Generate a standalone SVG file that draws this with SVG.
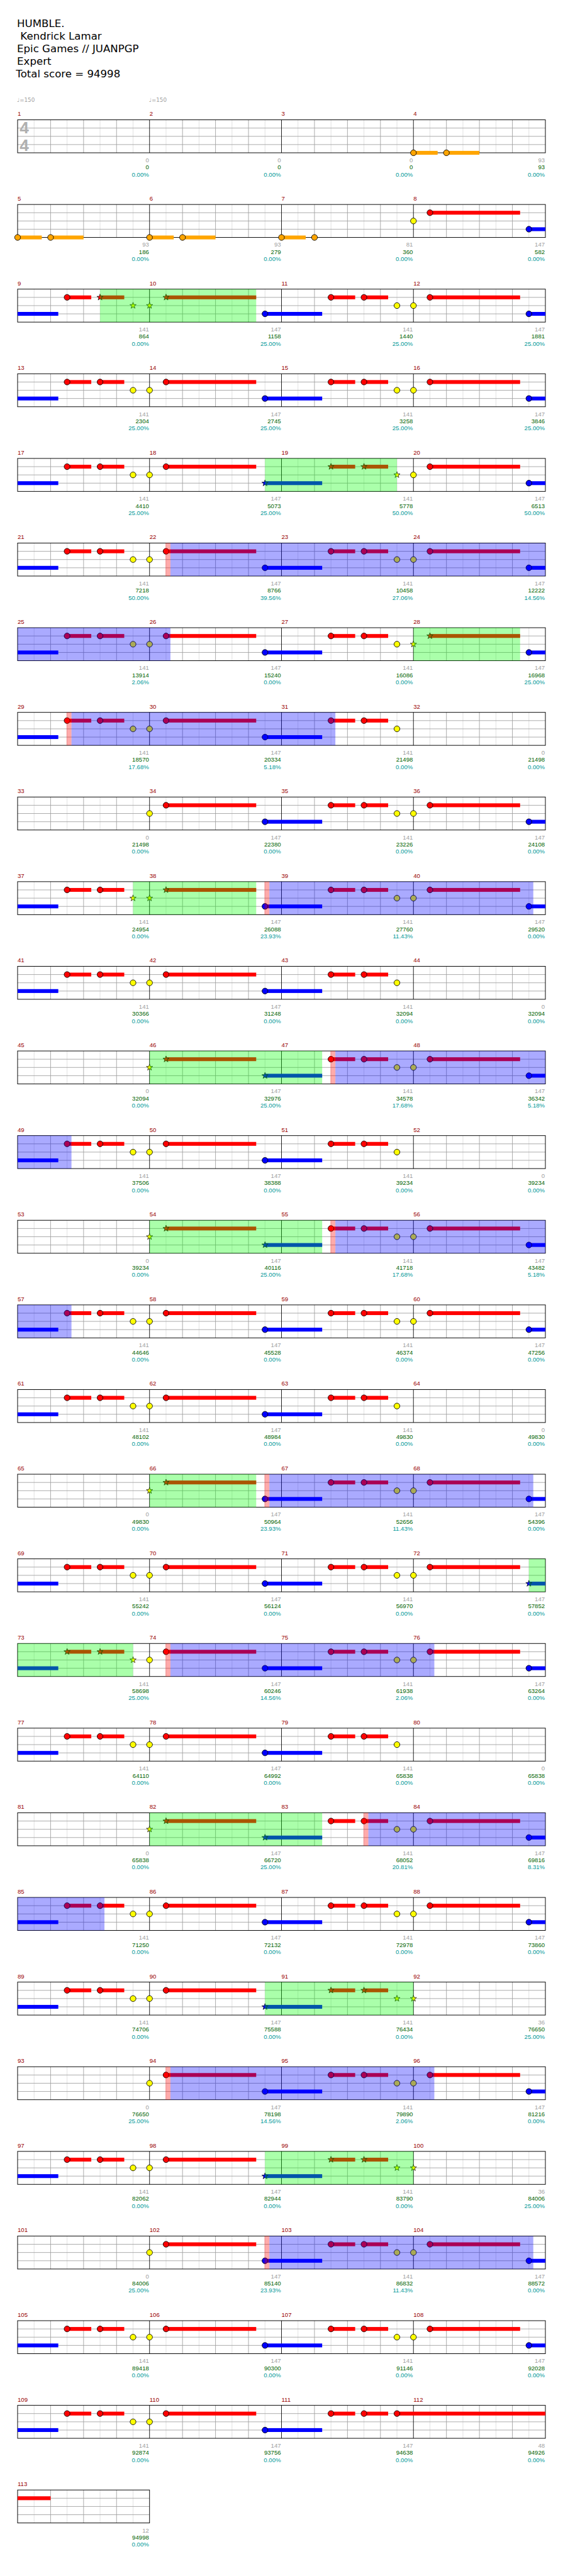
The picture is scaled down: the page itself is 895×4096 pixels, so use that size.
<svg xmlns="http://www.w3.org/2000/svg" width="895" height="4096" viewBox="0 0 895 4096">
<style>
text{font-family:"Liberation Sans",Arial,sans-serif}
.hd{font-family:"DejaVu Sans",Verdana,sans-serif;font-size:19px;fill:#000}
.mn{font-size:11px;fill:#900}
.lb{font-size:11px;text-anchor:end}
.t1{fill:#a0a0a0}.t2{fill:#006400}.t3{fill:#009999}
.tp{font-family:"DejaVu Sans",sans-serif;font-size:10px;fill:#a0a0a0}
.ts{font-size:30px;font-weight:bold;fill:#b0b0b0;text-anchor:middle}
.r{fill:#f00}.y{fill:#ff0}.b{fill:#00f}.o{fill:#ffa500}
.gz{fill:#0f0;fill-opacity:.333}.bz{fill:#00f;fill-opacity:.333}.pz{fill:#f00;fill-opacity:.333}
</style>
<defs>
<circle id="h" r="5.3" stroke="#000" stroke-width="1"/>
<path id="s" d="M0-6L1.41-1.94L5.71-1.85L2.28 .74L3.53 4.85L0 2.4L-3.53 4.85L-2.28 .74L-5.71-1.85L-1.41-1.94Z" stroke="#000" stroke-width=".8"/>
<g id="grid">
<rect x="32" y="0" width="960" height="60" fill="#fff"/>
<path d="M62 0V60M122 0V60M182 0V60M242 0V60M302 0V60M362 0V60M422 0V60M482 0V60M542 0V60M602 0V60M662 0V60M722 0V60M782 0V60M842 0V60M902 0V60M962 0V60" stroke="#ddd" fill="none"/>
<path d="M32 15H992M32 30H992M32 45H992M92 0V60M152 0V60M212 0V60M332 0V60M392 0V60M452 0V60M572 0V60M632 0V60M692 0V60M812 0V60M872 0V60M932 0V60" stroke="#a0a0a0" fill="none"/>
<path d="M272 0V60M512 0V60M752 0V60" stroke="#000" fill="none"/>
<rect x="32" y="0" width="960" height="60" fill="none" stroke="#000" stroke-width="1.1"/>
</g>
<g id="grid1">
<rect x="32" y="0" width="240" height="60" fill="#fff"/>
<path d="M62 0V60M122 0V60M182 0V60M242 0V60" stroke="#ddd" fill="none"/>
<path d="M32 15H272M32 30H272M32 45H272M92 0V60M152 0V60M212 0V60" stroke="#a0a0a0" fill="none"/>
<rect x="32" y="0" width="240" height="60" fill="none" stroke="#000" stroke-width="1.1"/>
</g>
<g id="P">
<rect class="r" x="90" y="11.5" width="44" height="7"/>
<rect class="r" x="150" y="11.5" width="44" height="7"/>
<use href="#h" x="90" y="15" class="r"/>
<use href="#h" x="150" y="15" class="r"/>
<use href="#h" x="210" y="30" class="y"/>
</g>
<g id="Q">
<rect class="r" x="30" y="11.5" width="164" height="7"/>
<rect class="b" x="210" y="41.5" width="104" height="7"/>
<use href="#h" x="0" y="30" class="y"/>
<use href="#h" x="30" y="15" class="r"/>
<use href="#h" x="210" y="45" class="b"/>
</g>
<g id="Qe">
<rect class="r" x="30" y="11.5" width="164" height="7"/>
<rect class="b" x="210" y="41.5" width="30" height="7"/>
<use href="#h" x="0" y="30" class="y"/>
<use href="#h" x="30" y="15" class="r"/>
<use href="#h" x="210" y="45" class="b"/>
</g>
<g id="Pall">
<rect class="r" x="90" y="11.5" width="44" height="7"/>
<rect class="r" x="150" y="11.5" width="44" height="7"/>
<use href="#s" x="90" y="15" class="r"/>
<use href="#s" x="150" y="15" class="r"/>
<use href="#s" x="210" y="30" class="y"/>
</g>
<g id="Qall">
<rect class="r" x="30" y="11.5" width="164" height="7"/>
<rect class="b" x="210" y="41.5" width="104" height="7"/>
<use href="#s" x="0" y="30" class="y"/>
<use href="#s" x="30" y="15" class="r"/>
<use href="#s" x="210" y="45" class="b"/>
</g>
<g id="Q12">
<rect class="r" x="30" y="11.5" width="164" height="7"/>
<rect class="b" x="210" y="41.5" width="104" height="7"/>
<use href="#s" x="0" y="30" class="y"/>
<use href="#s" x="30" y="15" class="r"/>
<use href="#h" x="210" y="45" class="b"/>
</g>
<g id="Q3">
<rect class="r" x="30" y="11.5" width="164" height="7"/>
<rect class="b" x="210" y="41.5" width="104" height="7"/>
<use href="#h" x="0" y="30" class="y"/>
<use href="#h" x="30" y="15" class="r"/>
<use href="#s" x="210" y="45" class="b"/>
</g>
<rect id="lead" class="b" x="32" y="41.5" width="74" height="7"/>
</defs>
<rect x="0" y="0" width="895" height="4096" fill="#fff"/>
<g transform="scale(0.874)">
<g id="header">
<text class="hd" x="31" y="49">HUMBLE.</text>
<text class="hd" x="31" y="72" xml:space="preserve"> Kendrick Lamar</text>
<text class="hd" x="31" y="95">Epic Games // JUANPGP</text>
<text class="hd" x="31" y="118">Expert</text>
<text class="hd" x="29" y="141">Total score = 94998</text>
</g>

<g id="row1" transform="translate(0,218)">
<use href="#grid"/>
<text class="ts" x="44" y="25">4</text><text class="ts" x="44" y="57">4</text>
<text class="tp" x="31" y="-33">♩=150</text><text class="tp" x="271" y="-33">♩=150</text>
<rect class="o" x="752" y="56.5" width="44" height="7"/><rect class="o" x="812" y="56.5" width="60" height="7"/>
<use href="#h" x="752" y="60" class="o"/><use href="#h" x="812" y="60" class="o"/>
<text class="mn" y="-7"><tspan x="32">1</tspan><tspan x="272">2</tspan><tspan x="512">3</tspan><tspan x="752">4</tspan></text>
<text class="lb" x="271" y="77"><tspan class="t1">0</tspan><tspan class="t2" x="271" y="90">0</tspan><tspan class="t3" x="271" y="103">0.00%</tspan></text>
<text class="lb" x="511" y="77"><tspan class="t1">0</tspan><tspan class="t2" x="511" y="90">0</tspan><tspan class="t3" x="511" y="103">0.00%</tspan></text>
<text class="lb" x="751" y="77"><tspan class="t1">0</tspan><tspan class="t2" x="751" y="90">0</tspan><tspan class="t3" x="751" y="103">0.00%</tspan></text>
<text class="lb" x="991" y="77"><tspan class="t1">93</tspan><tspan class="t2" x="991" y="90">93</tspan><tspan class="t3" x="991" y="103">0.00%</tspan></text>
</g>

<g id="row2" transform="translate(0,372)">
<use href="#grid"/>
<rect class="o" x="32" y="56.5" width="44" height="7"/><rect class="o" x="92" y="56.5" width="60" height="7"/>
<rect class="o" x="272" y="56.5" width="44" height="7"/><rect class="o" x="332" y="56.5" width="60" height="7"/>
<rect class="o" x="512" y="56.5" width="44" height="7"/>
<use href="#h" x="32" y="60" class="o"/><use href="#h" x="92" y="60" class="o"/>
<use href="#h" x="272" y="60" class="o"/><use href="#h" x="332" y="60" class="o"/>
<use href="#h" x="512" y="60" class="o"/><use href="#h" x="572" y="60" class="o"/>
<use href="#Qe" x="752"/>
<text class="mn" y="-7"><tspan x="32">5</tspan><tspan x="272">6</tspan><tspan x="512">7</tspan><tspan x="752">8</tspan></text>
<text class="lb" x="271" y="77"><tspan class="t1">93</tspan><tspan class="t2" x="271" y="90">186</tspan><tspan class="t3" x="271" y="103">0.00%</tspan></text>
<text class="lb" x="511" y="77"><tspan class="t1">93</tspan><tspan class="t2" x="511" y="90">279</tspan><tspan class="t3" x="511" y="103">0.00%</tspan></text>
<text class="lb" x="751" y="77"><tspan class="t1">81</tspan><tspan class="t2" x="751" y="90">360</tspan><tspan class="t3" x="751" y="103">0.00%</tspan></text>
<text class="lb" x="991" y="77"><tspan class="t1">147</tspan><tspan class="t2" x="991" y="90">582</tspan><tspan class="t3" x="991" y="103">0.00%</tspan></text>
</g>

<g id="row3" transform="translate(0,526)">
<use href="#grid"/><use href="#lead"/>
<rect class="r" x="122" y="11.5" width="44" height="7"/><rect class="r" x="182" y="11.5" width="44" height="7"/>
<use href="#h" x="122" y="15" class="r"/><use href="#s" x="182" y="15" class="r"/><use href="#s" x="242" y="30" class="y"/>
<use href="#Q12" x="272"/><use href="#P" x="512"/><use href="#Qe" x="752"/>
<rect class="gz" x="182" y="0" width="284" height="60"/>
<text class="mn" y="-7"><tspan x="32">9</tspan><tspan x="272">10</tspan><tspan x="512">11</tspan><tspan x="752">12</tspan></text>
<text class="lb" x="271" y="77"><tspan class="t1">141</tspan><tspan class="t2" x="271" y="90">864</tspan><tspan class="t3" x="271" y="103">0.00%</tspan></text>
<text class="lb" x="511" y="77"><tspan class="t1">147</tspan><tspan class="t2" x="511" y="90">1158</tspan><tspan class="t3" x="511" y="103">25.00%</tspan></text>
<text class="lb" x="751" y="77"><tspan class="t1">141</tspan><tspan class="t2" x="751" y="90">1440</tspan><tspan class="t3" x="751" y="103">25.00%</tspan></text>
<text class="lb" x="991" y="77"><tspan class="t1">147</tspan><tspan class="t2" x="991" y="90">1881</tspan><tspan class="t3" x="991" y="103">25.00%</tspan></text>
</g>

<g id="row4" transform="translate(0,680)">
<use href="#grid"/><use href="#lead"/>
<use href="#P" x="32"/><use href="#Q" x="272"/><use href="#P" x="512"/><use href="#Qe" x="752"/>
<text class="mn" y="-7"><tspan x="32">13</tspan><tspan x="272">14</tspan><tspan x="512">15</tspan><tspan x="752">16</tspan></text>
<text class="lb" x="271" y="77"><tspan class="t1">141</tspan><tspan class="t2" x="271" y="90">2304</tspan><tspan class="t3" x="271" y="103">25.00%</tspan></text>
<text class="lb" x="511" y="77"><tspan class="t1">147</tspan><tspan class="t2" x="511" y="90">2745</tspan><tspan class="t3" x="511" y="103">25.00%</tspan></text>
<text class="lb" x="751" y="77"><tspan class="t1">141</tspan><tspan class="t2" x="751" y="90">3258</tspan><tspan class="t3" x="751" y="103">25.00%</tspan></text>
<text class="lb" x="991" y="77"><tspan class="t1">147</tspan><tspan class="t2" x="991" y="90">3846</tspan><tspan class="t3" x="991" y="103">25.00%</tspan></text>
</g>

<g id="row5" transform="translate(0,834)">
<use href="#grid"/><use href="#lead"/>
<use href="#P" x="32"/><use href="#Q3" x="272"/><use href="#Pall" x="512"/><use href="#Qe" x="752"/>
<rect class="gz" x="482" y="0" width="240" height="60"/>
<text class="mn" y="-7"><tspan x="32">17</tspan><tspan x="272">18</tspan><tspan x="512">19</tspan><tspan x="752">20</tspan></text>
<text class="lb" x="271" y="77"><tspan class="t1">141</tspan><tspan class="t2" x="271" y="90">4410</tspan><tspan class="t3" x="271" y="103">25.00%</tspan></text>
<text class="lb" x="511" y="77"><tspan class="t1">147</tspan><tspan class="t2" x="511" y="90">5073</tspan><tspan class="t3" x="511" y="103">25.00%</tspan></text>
<text class="lb" x="751" y="77"><tspan class="t1">141</tspan><tspan class="t2" x="751" y="90">5778</tspan><tspan class="t3" x="751" y="103">50.00%</tspan></text>
<text class="lb" x="991" y="77"><tspan class="t1">147</tspan><tspan class="t2" x="991" y="90">6513</tspan><tspan class="t3" x="991" y="103">50.00%</tspan></text>
</g>

<g id="row6" transform="translate(0,988)">
<use href="#grid"/><use href="#lead"/>
<use href="#P" x="32"/><use href="#Q" x="272"/><use href="#P" x="512"/><use href="#Qe" x="752"/>
<rect class="pz" x="301" y="0" width="9" height="60"/><rect class="bz" x="310" y="0" width="682" height="60"/>
<text class="mn" y="-7"><tspan x="32">21</tspan><tspan x="272">22</tspan><tspan x="512">23</tspan><tspan x="752">24</tspan></text>
<text class="lb" x="271" y="77"><tspan class="t1">141</tspan><tspan class="t2" x="271" y="90">7218</tspan><tspan class="t3" x="271" y="103">50.00%</tspan></text>
<text class="lb" x="511" y="77"><tspan class="t1">147</tspan><tspan class="t2" x="511" y="90">8766</tspan><tspan class="t3" x="511" y="103">39.56%</tspan></text>
<text class="lb" x="751" y="77"><tspan class="t1">141</tspan><tspan class="t2" x="751" y="90">10458</tspan><tspan class="t3" x="751" y="103">27.06%</tspan></text>
<text class="lb" x="991" y="77"><tspan class="t1">147</tspan><tspan class="t2" x="991" y="90">12222</tspan><tspan class="t3" x="991" y="103">14.56%</tspan></text>
</g>

<g id="row7" transform="translate(0,1142)">
<use href="#grid"/><use href="#lead"/>
<use href="#P" x="32"/><use href="#Q" x="272"/><use href="#P" x="512"/>
<rect class="r" x="782" y="11.5" width="164" height="7"/><rect class="b" x="962" y="41.5" width="30" height="7"/>
<use href="#s" x="752" y="30" class="y"/><use href="#s" x="782" y="15" class="r"/><use href="#h" x="962" y="45" class="b"/>
<rect class="bz" x="32" y="0" width="278" height="60"/><rect class="gz" x="752" y="0" width="194" height="60"/>
<text class="mn" y="-7"><tspan x="32">25</tspan><tspan x="272">26</tspan><tspan x="512">27</tspan><tspan x="752">28</tspan></text>
<text class="lb" x="271" y="77"><tspan class="t1">141</tspan><tspan class="t2" x="271" y="90">13914</tspan><tspan class="t3" x="271" y="103">2.06%</tspan></text>
<text class="lb" x="511" y="77"><tspan class="t1">147</tspan><tspan class="t2" x="511" y="90">15240</tspan><tspan class="t3" x="511" y="103">0.00%</tspan></text>
<text class="lb" x="751" y="77"><tspan class="t1">141</tspan><tspan class="t2" x="751" y="90">16086</tspan><tspan class="t3" x="751" y="103">0.00%</tspan></text>
<text class="lb" x="991" y="77"><tspan class="t1">147</tspan><tspan class="t2" x="991" y="90">16968</tspan><tspan class="t3" x="991" y="103">25.00%</tspan></text>
</g>

<g id="row8" transform="translate(0,1296)">
<use href="#grid"/><use href="#lead"/>
<use href="#P" x="32"/><use href="#Q" x="272"/><use href="#P" x="512"/>
<rect class="pz" x="121" y="0" width="9" height="60"/><rect class="bz" x="130" y="0" width="480" height="60"/>
<text class="mn" y="-7"><tspan x="32">29</tspan><tspan x="272">30</tspan><tspan x="512">31</tspan><tspan x="752">32</tspan></text>
<text class="lb" x="271" y="77"><tspan class="t1">141</tspan><tspan class="t2" x="271" y="90">18570</tspan><tspan class="t3" x="271" y="103">17.68%</tspan></text>
<text class="lb" x="511" y="77"><tspan class="t1">147</tspan><tspan class="t2" x="511" y="90">20334</tspan><tspan class="t3" x="511" y="103">5.18%</tspan></text>
<text class="lb" x="751" y="77"><tspan class="t1">141</tspan><tspan class="t2" x="751" y="90">21498</tspan><tspan class="t3" x="751" y="103">0.00%</tspan></text>
<text class="lb" x="991" y="77"><tspan class="t1">0</tspan><tspan class="t2" x="991" y="90">21498</tspan><tspan class="t3" x="991" y="103">0.00%</tspan></text>
</g>

<g id="row9" transform="translate(0,1450)">
<use href="#grid"/>
<use href="#Q" x="272"/><use href="#P" x="512"/><use href="#Qe" x="752"/>
<text class="mn" y="-7"><tspan x="32">33</tspan><tspan x="272">34</tspan><tspan x="512">35</tspan><tspan x="752">36</tspan></text>
<text class="lb" x="271" y="77"><tspan class="t1">0</tspan><tspan class="t2" x="271" y="90">21498</tspan><tspan class="t3" x="271" y="103">0.00%</tspan></text>
<text class="lb" x="511" y="77"><tspan class="t1">147</tspan><tspan class="t2" x="511" y="90">22380</tspan><tspan class="t3" x="511" y="103">0.00%</tspan></text>
<text class="lb" x="751" y="77"><tspan class="t1">141</tspan><tspan class="t2" x="751" y="90">23226</tspan><tspan class="t3" x="751" y="103">0.00%</tspan></text>
<text class="lb" x="991" y="77"><tspan class="t1">147</tspan><tspan class="t2" x="991" y="90">24108</tspan><tspan class="t3" x="991" y="103">0.00%</tspan></text>
</g>

<g id="row10" transform="translate(0,1604)">
<use href="#grid"/><use href="#lead"/>
<rect class="r" x="122" y="11.5" width="44" height="7"/><rect class="r" x="182" y="11.5" width="44" height="7"/>
<use href="#h" x="122" y="15" class="r"/><use href="#h" x="182" y="15" class="r"/><use href="#s" x="242" y="30" class="y"/>
<use href="#Q12" x="272"/><use href="#P" x="512"/><use href="#Qe" x="752"/>
<rect class="gz" x="242" y="0" width="224" height="60"/>
<rect class="pz" x="481" y="0" width="9" height="60"/><rect class="bz" x="490" y="0" width="480" height="60"/>
<text class="mn" y="-7"><tspan x="32">37</tspan><tspan x="272">38</tspan><tspan x="512">39</tspan><tspan x="752">40</tspan></text>
<text class="lb" x="271" y="77"><tspan class="t1">141</tspan><tspan class="t2" x="271" y="90">24954</tspan><tspan class="t3" x="271" y="103">0.00%</tspan></text>
<text class="lb" x="511" y="77"><tspan class="t1">147</tspan><tspan class="t2" x="511" y="90">26088</tspan><tspan class="t3" x="511" y="103">23.93%</tspan></text>
<text class="lb" x="751" y="77"><tspan class="t1">141</tspan><tspan class="t2" x="751" y="90">27760</tspan><tspan class="t3" x="751" y="103">11.43%</tspan></text>
<text class="lb" x="991" y="77"><tspan class="t1">147</tspan><tspan class="t2" x="991" y="90">29520</tspan><tspan class="t3" x="991" y="103">0.00%</tspan></text>
</g>

<g id="row11" transform="translate(0,1758)">
<use href="#grid"/><use href="#lead"/>
<use href="#P" x="32"/><use href="#Q" x="272"/><use href="#P" x="512"/>
<text class="mn" y="-7"><tspan x="32">41</tspan><tspan x="272">42</tspan><tspan x="512">43</tspan><tspan x="752">44</tspan></text>
<text class="lb" x="271" y="77"><tspan class="t1">141</tspan><tspan class="t2" x="271" y="90">30366</tspan><tspan class="t3" x="271" y="103">0.00%</tspan></text>
<text class="lb" x="511" y="77"><tspan class="t1">147</tspan><tspan class="t2" x="511" y="90">31248</tspan><tspan class="t3" x="511" y="103">0.00%</tspan></text>
<text class="lb" x="751" y="77"><tspan class="t1">141</tspan><tspan class="t2" x="751" y="90">32094</tspan><tspan class="t3" x="751" y="103">0.00%</tspan></text>
<text class="lb" x="991" y="77"><tspan class="t1">0</tspan><tspan class="t2" x="991" y="90">32094</tspan><tspan class="t3" x="991" y="103">0.00%</tspan></text>
</g>

<g id="row12" transform="translate(0,1912)">
<use href="#grid"/>
<use href="#Qall" x="272"/><use href="#P" x="512"/><use href="#Qe" x="752"/>
<rect class="gz" x="272" y="0" width="314" height="60"/>
<rect class="pz" x="601" y="0" width="9" height="60"/><rect class="bz" x="610" y="0" width="382" height="60"/>
<text class="mn" y="-7"><tspan x="32">45</tspan><tspan x="272">46</tspan><tspan x="512">47</tspan><tspan x="752">48</tspan></text>
<text class="lb" x="271" y="77"><tspan class="t1">0</tspan><tspan class="t2" x="271" y="90">32094</tspan><tspan class="t3" x="271" y="103">0.00%</tspan></text>
<text class="lb" x="511" y="77"><tspan class="t1">147</tspan><tspan class="t2" x="511" y="90">32976</tspan><tspan class="t3" x="511" y="103">25.00%</tspan></text>
<text class="lb" x="751" y="77"><tspan class="t1">141</tspan><tspan class="t2" x="751" y="90">34578</tspan><tspan class="t3" x="751" y="103">17.68%</tspan></text>
<text class="lb" x="991" y="77"><tspan class="t1">147</tspan><tspan class="t2" x="991" y="90">36342</tspan><tspan class="t3" x="991" y="103">5.18%</tspan></text>
</g>

<g id="row13" transform="translate(0,2066)">
<use href="#grid"/><use href="#lead"/>
<use href="#P" x="32"/><use href="#Q" x="272"/><use href="#P" x="512"/>
<rect class="bz" x="32" y="0" width="98" height="60"/>
<text class="mn" y="-7"><tspan x="32">49</tspan><tspan x="272">50</tspan><tspan x="512">51</tspan><tspan x="752">52</tspan></text>
<text class="lb" x="271" y="77"><tspan class="t1">141</tspan><tspan class="t2" x="271" y="90">37506</tspan><tspan class="t3" x="271" y="103">0.00%</tspan></text>
<text class="lb" x="511" y="77"><tspan class="t1">147</tspan><tspan class="t2" x="511" y="90">38388</tspan><tspan class="t3" x="511" y="103">0.00%</tspan></text>
<text class="lb" x="751" y="77"><tspan class="t1">141</tspan><tspan class="t2" x="751" y="90">39234</tspan><tspan class="t3" x="751" y="103">0.00%</tspan></text>
<text class="lb" x="991" y="77"><tspan class="t1">0</tspan><tspan class="t2" x="991" y="90">39234</tspan><tspan class="t3" x="991" y="103">0.00%</tspan></text>
</g>

<g id="row14" transform="translate(0,2220)">
<use href="#grid"/>
<use href="#Qall" x="272"/><use href="#P" x="512"/><use href="#Qe" x="752"/>
<rect class="gz" x="272" y="0" width="314" height="60"/>
<rect class="pz" x="601" y="0" width="9" height="60"/><rect class="bz" x="610" y="0" width="382" height="60"/>
<text class="mn" y="-7"><tspan x="32">53</tspan><tspan x="272">54</tspan><tspan x="512">55</tspan><tspan x="752">56</tspan></text>
<text class="lb" x="271" y="77"><tspan class="t1">0</tspan><tspan class="t2" x="271" y="90">39234</tspan><tspan class="t3" x="271" y="103">0.00%</tspan></text>
<text class="lb" x="511" y="77"><tspan class="t1">147</tspan><tspan class="t2" x="511" y="90">40116</tspan><tspan class="t3" x="511" y="103">25.00%</tspan></text>
<text class="lb" x="751" y="77"><tspan class="t1">141</tspan><tspan class="t2" x="751" y="90">41718</tspan><tspan class="t3" x="751" y="103">17.68%</tspan></text>
<text class="lb" x="991" y="77"><tspan class="t1">147</tspan><tspan class="t2" x="991" y="90">43482</tspan><tspan class="t3" x="991" y="103">5.18%</tspan></text>
</g>

<g id="row15" transform="translate(0,2374)">
<use href="#grid"/><use href="#lead"/>
<use href="#P" x="32"/><use href="#Q" x="272"/><use href="#P" x="512"/><use href="#Qe" x="752"/>
<rect class="bz" x="32" y="0" width="98" height="60"/>
<text class="mn" y="-7"><tspan x="32">57</tspan><tspan x="272">58</tspan><tspan x="512">59</tspan><tspan x="752">60</tspan></text>
<text class="lb" x="271" y="77"><tspan class="t1">141</tspan><tspan class="t2" x="271" y="90">44646</tspan><tspan class="t3" x="271" y="103">0.00%</tspan></text>
<text class="lb" x="511" y="77"><tspan class="t1">147</tspan><tspan class="t2" x="511" y="90">45528</tspan><tspan class="t3" x="511" y="103">0.00%</tspan></text>
<text class="lb" x="751" y="77"><tspan class="t1">141</tspan><tspan class="t2" x="751" y="90">46374</tspan><tspan class="t3" x="751" y="103">0.00%</tspan></text>
<text class="lb" x="991" y="77"><tspan class="t1">147</tspan><tspan class="t2" x="991" y="90">47256</tspan><tspan class="t3" x="991" y="103">0.00%</tspan></text>
</g>

<g id="row16" transform="translate(0,2528)">
<use href="#grid"/><use href="#lead"/>
<use href="#P" x="32"/><use href="#Q" x="272"/><use href="#P" x="512"/>
<text class="mn" y="-7"><tspan x="32">61</tspan><tspan x="272">62</tspan><tspan x="512">63</tspan><tspan x="752">64</tspan></text>
<text class="lb" x="271" y="77"><tspan class="t1">141</tspan><tspan class="t2" x="271" y="90">48102</tspan><tspan class="t3" x="271" y="103">0.00%</tspan></text>
<text class="lb" x="511" y="77"><tspan class="t1">147</tspan><tspan class="t2" x="511" y="90">48984</tspan><tspan class="t3" x="511" y="103">0.00%</tspan></text>
<text class="lb" x="751" y="77"><tspan class="t1">141</tspan><tspan class="t2" x="751" y="90">49830</tspan><tspan class="t3" x="751" y="103">0.00%</tspan></text>
<text class="lb" x="991" y="77"><tspan class="t1">0</tspan><tspan class="t2" x="991" y="90">49830</tspan><tspan class="t3" x="991" y="103">0.00%</tspan></text>
</g>

<g id="row17" transform="translate(0,2682)">
<use href="#grid"/>
<use href="#Q12" x="272"/><use href="#P" x="512"/><use href="#Qe" x="752"/>
<rect class="gz" x="272" y="0" width="194" height="60"/>
<rect class="pz" x="481" y="0" width="9" height="60"/><rect class="bz" x="490" y="0" width="480" height="60"/>
<text class="mn" y="-7"><tspan x="32">65</tspan><tspan x="272">66</tspan><tspan x="512">67</tspan><tspan x="752">68</tspan></text>
<text class="lb" x="271" y="77"><tspan class="t1">0</tspan><tspan class="t2" x="271" y="90">49830</tspan><tspan class="t3" x="271" y="103">0.00%</tspan></text>
<text class="lb" x="511" y="77"><tspan class="t1">147</tspan><tspan class="t2" x="511" y="90">50964</tspan><tspan class="t3" x="511" y="103">23.93%</tspan></text>
<text class="lb" x="751" y="77"><tspan class="t1">141</tspan><tspan class="t2" x="751" y="90">52656</tspan><tspan class="t3" x="751" y="103">11.43%</tspan></text>
<text class="lb" x="991" y="77"><tspan class="t1">147</tspan><tspan class="t2" x="991" y="90">54396</tspan><tspan class="t3" x="991" y="103">0.00%</tspan></text>
</g>

<g id="row18" transform="translate(0,2836)">
<use href="#grid"/><use href="#lead"/>
<use href="#P" x="32"/><use href="#Q" x="272"/><use href="#P" x="512"/>
<rect class="r" x="782" y="11.5" width="164" height="7"/><rect class="b" x="962" y="41.5" width="30" height="7"/>
<use href="#h" x="752" y="30" class="y"/><use href="#h" x="782" y="15" class="r"/><use href="#s" x="962" y="45" class="b"/>
<rect class="gz" x="962" y="0" width="30" height="60"/>
<text class="mn" y="-7"><tspan x="32">69</tspan><tspan x="272">70</tspan><tspan x="512">71</tspan><tspan x="752">72</tspan></text>
<text class="lb" x="271" y="77"><tspan class="t1">141</tspan><tspan class="t2" x="271" y="90">55242</tspan><tspan class="t3" x="271" y="103">0.00%</tspan></text>
<text class="lb" x="511" y="77"><tspan class="t1">147</tspan><tspan class="t2" x="511" y="90">56124</tspan><tspan class="t3" x="511" y="103">0.00%</tspan></text>
<text class="lb" x="751" y="77"><tspan class="t1">141</tspan><tspan class="t2" x="751" y="90">56970</tspan><tspan class="t3" x="751" y="103">0.00%</tspan></text>
<text class="lb" x="991" y="77"><tspan class="t1">147</tspan><tspan class="t2" x="991" y="90">57852</tspan><tspan class="t3" x="991" y="103">0.00%</tspan></text>
</g>

<g id="row19" transform="translate(0,2990)">
<use href="#grid"/><use href="#lead"/>
<use href="#Pall" x="32"/><use href="#Q" x="272"/><use href="#P" x="512"/><use href="#Qe" x="752"/>
<rect class="gz" x="32" y="0" width="210" height="60"/>
<rect class="pz" x="301" y="0" width="9" height="60"/><rect class="bz" x="310" y="0" width="480" height="60"/>
<text class="mn" y="-7"><tspan x="32">73</tspan><tspan x="272">74</tspan><tspan x="512">75</tspan><tspan x="752">76</tspan></text>
<text class="lb" x="271" y="77"><tspan class="t1">141</tspan><tspan class="t2" x="271" y="90">58698</tspan><tspan class="t3" x="271" y="103">25.00%</tspan></text>
<text class="lb" x="511" y="77"><tspan class="t1">147</tspan><tspan class="t2" x="511" y="90">60246</tspan><tspan class="t3" x="511" y="103">14.56%</tspan></text>
<text class="lb" x="751" y="77"><tspan class="t1">141</tspan><tspan class="t2" x="751" y="90">61938</tspan><tspan class="t3" x="751" y="103">2.06%</tspan></text>
<text class="lb" x="991" y="77"><tspan class="t1">147</tspan><tspan class="t2" x="991" y="90">63264</tspan><tspan class="t3" x="991" y="103">0.00%</tspan></text>
</g>

<g id="row20" transform="translate(0,3144)">
<use href="#grid"/><use href="#lead"/>
<use href="#P" x="32"/><use href="#Q" x="272"/><use href="#P" x="512"/>
<text class="mn" y="-7"><tspan x="32">77</tspan><tspan x="272">78</tspan><tspan x="512">79</tspan><tspan x="752">80</tspan></text>
<text class="lb" x="271" y="77"><tspan class="t1">141</tspan><tspan class="t2" x="271" y="90">64110</tspan><tspan class="t3" x="271" y="103">0.00%</tspan></text>
<text class="lb" x="511" y="77"><tspan class="t1">147</tspan><tspan class="t2" x="511" y="90">64992</tspan><tspan class="t3" x="511" y="103">0.00%</tspan></text>
<text class="lb" x="751" y="77"><tspan class="t1">141</tspan><tspan class="t2" x="751" y="90">65838</tspan><tspan class="t3" x="751" y="103">0.00%</tspan></text>
<text class="lb" x="991" y="77"><tspan class="t1">0</tspan><tspan class="t2" x="991" y="90">65838</tspan><tspan class="t3" x="991" y="103">0.00%</tspan></text>
</g>

<g id="row21" transform="translate(0,3298)">
<use href="#grid"/>
<use href="#Qall" x="272"/><use href="#P" x="512"/><use href="#Qe" x="752"/>
<rect class="gz" x="272" y="0" width="314" height="60"/>
<rect class="pz" x="661" y="0" width="9" height="60"/><rect class="bz" x="670" y="0" width="322" height="60"/>
<text class="mn" y="-7"><tspan x="32">81</tspan><tspan x="272">82</tspan><tspan x="512">83</tspan><tspan x="752">84</tspan></text>
<text class="lb" x="271" y="77"><tspan class="t1">0</tspan><tspan class="t2" x="271" y="90">65838</tspan><tspan class="t3" x="271" y="103">0.00%</tspan></text>
<text class="lb" x="511" y="77"><tspan class="t1">147</tspan><tspan class="t2" x="511" y="90">66720</tspan><tspan class="t3" x="511" y="103">25.00%</tspan></text>
<text class="lb" x="751" y="77"><tspan class="t1">141</tspan><tspan class="t2" x="751" y="90">68052</tspan><tspan class="t3" x="751" y="103">20.81%</tspan></text>
<text class="lb" x="991" y="77"><tspan class="t1">147</tspan><tspan class="t2" x="991" y="90">69816</tspan><tspan class="t3" x="991" y="103">8.31%</tspan></text>
</g>

<g id="row22" transform="translate(0,3452)">
<use href="#grid"/><use href="#lead"/>
<use href="#P" x="32"/><use href="#Q" x="272"/><use href="#P" x="512"/><use href="#Qe" x="752"/>
<rect class="bz" x="32" y="0" width="158" height="60"/>
<text class="mn" y="-7"><tspan x="32">85</tspan><tspan x="272">86</tspan><tspan x="512">87</tspan><tspan x="752">88</tspan></text>
<text class="lb" x="271" y="77"><tspan class="t1">141</tspan><tspan class="t2" x="271" y="90">71250</tspan><tspan class="t3" x="271" y="103">0.00%</tspan></text>
<text class="lb" x="511" y="77"><tspan class="t1">147</tspan><tspan class="t2" x="511" y="90">72132</tspan><tspan class="t3" x="511" y="103">0.00%</tspan></text>
<text class="lb" x="751" y="77"><tspan class="t1">141</tspan><tspan class="t2" x="751" y="90">72978</tspan><tspan class="t3" x="751" y="103">0.00%</tspan></text>
<text class="lb" x="991" y="77"><tspan class="t1">147</tspan><tspan class="t2" x="991" y="90">73860</tspan><tspan class="t3" x="991" y="103">0.00%</tspan></text>
</g>

<g id="row23" transform="translate(0,3606)">
<use href="#grid"/><use href="#lead"/>
<use href="#P" x="32"/><use href="#Q3" x="272"/><use href="#Pall" x="512"/>
<use href="#s" x="752" y="30" class="y"/>
<rect class="gz" x="482" y="0" width="270" height="60"/>
<text class="mn" y="-7"><tspan x="32">89</tspan><tspan x="272">90</tspan><tspan x="512">91</tspan><tspan x="752">92</tspan></text>
<text class="lb" x="271" y="77"><tspan class="t1">141</tspan><tspan class="t2" x="271" y="90">74706</tspan><tspan class="t3" x="271" y="103">0.00%</tspan></text>
<text class="lb" x="511" y="77"><tspan class="t1">147</tspan><tspan class="t2" x="511" y="90">75588</tspan><tspan class="t3" x="511" y="103">0.00%</tspan></text>
<text class="lb" x="751" y="77"><tspan class="t1">141</tspan><tspan class="t2" x="751" y="90">76434</tspan><tspan class="t3" x="751" y="103">0.00%</tspan></text>
<text class="lb" x="991" y="77"><tspan class="t1">36</tspan><tspan class="t2" x="991" y="90">76650</tspan><tspan class="t3" x="991" y="103">25.00%</tspan></text>
</g>

<g id="row24" transform="translate(0,3760)">
<use href="#grid"/>
<use href="#Q" x="272"/><use href="#P" x="512"/><use href="#Qe" x="752"/>
<rect class="pz" x="301" y="0" width="9" height="60"/><rect class="bz" x="310" y="0" width="480" height="60"/>
<text class="mn" y="-7"><tspan x="32">93</tspan><tspan x="272">94</tspan><tspan x="512">95</tspan><tspan x="752">96</tspan></text>
<text class="lb" x="271" y="77"><tspan class="t1">0</tspan><tspan class="t2" x="271" y="90">76650</tspan><tspan class="t3" x="271" y="103">25.00%</tspan></text>
<text class="lb" x="511" y="77"><tspan class="t1">147</tspan><tspan class="t2" x="511" y="90">78198</tspan><tspan class="t3" x="511" y="103">14.56%</tspan></text>
<text class="lb" x="751" y="77"><tspan class="t1">141</tspan><tspan class="t2" x="751" y="90">79890</tspan><tspan class="t3" x="751" y="103">2.06%</tspan></text>
<text class="lb" x="991" y="77"><tspan class="t1">147</tspan><tspan class="t2" x="991" y="90">81216</tspan><tspan class="t3" x="991" y="103">0.00%</tspan></text>
</g>

<g id="row25" transform="translate(0,3914)">
<use href="#grid"/><use href="#lead"/>
<use href="#P" x="32"/><use href="#Q3" x="272"/><use href="#Pall" x="512"/>
<use href="#s" x="752" y="30" class="y"/>
<rect class="gz" x="482" y="0" width="270" height="60"/>
<text class="mn" y="-7"><tspan x="32">97</tspan><tspan x="272">98</tspan><tspan x="512">99</tspan><tspan x="752">100</tspan></text>
<text class="lb" x="271" y="77"><tspan class="t1">141</tspan><tspan class="t2" x="271" y="90">82062</tspan><tspan class="t3" x="271" y="103">0.00%</tspan></text>
<text class="lb" x="511" y="77"><tspan class="t1">147</tspan><tspan class="t2" x="511" y="90">82944</tspan><tspan class="t3" x="511" y="103">0.00%</tspan></text>
<text class="lb" x="751" y="77"><tspan class="t1">141</tspan><tspan class="t2" x="751" y="90">83790</tspan><tspan class="t3" x="751" y="103">0.00%</tspan></text>
<text class="lb" x="991" y="77"><tspan class="t1">36</tspan><tspan class="t2" x="991" y="90">84006</tspan><tspan class="t3" x="991" y="103">25.00%</tspan></text>
</g>

<g id="row26" transform="translate(0,4068)">
<use href="#grid"/>
<use href="#Q" x="272"/><use href="#P" x="512"/><use href="#Qe" x="752"/>
<rect class="pz" x="481" y="0" width="9" height="60"/><rect class="bz" x="490" y="0" width="480" height="60"/>
<text class="mn" y="-7"><tspan x="32">101</tspan><tspan x="272">102</tspan><tspan x="512">103</tspan><tspan x="752">104</tspan></text>
<text class="lb" x="271" y="77"><tspan class="t1">0</tspan><tspan class="t2" x="271" y="90">84006</tspan><tspan class="t3" x="271" y="103">25.00%</tspan></text>
<text class="lb" x="511" y="77"><tspan class="t1">147</tspan><tspan class="t2" x="511" y="90">85140</tspan><tspan class="t3" x="511" y="103">23.93%</tspan></text>
<text class="lb" x="751" y="77"><tspan class="t1">141</tspan><tspan class="t2" x="751" y="90">86832</tspan><tspan class="t3" x="751" y="103">11.43%</tspan></text>
<text class="lb" x="991" y="77"><tspan class="t1">147</tspan><tspan class="t2" x="991" y="90">88572</tspan><tspan class="t3" x="991" y="103">0.00%</tspan></text>
</g>

<g id="row27" transform="translate(0,4222)">
<use href="#grid"/><use href="#lead"/>
<use href="#P" x="32"/><use href="#Q" x="272"/><use href="#P" x="512"/><use href="#Qe" x="752"/>
<text class="mn" y="-7"><tspan x="32">105</tspan><tspan x="272">106</tspan><tspan x="512">107</tspan><tspan x="752">108</tspan></text>
<text class="lb" x="271" y="77"><tspan class="t1">141</tspan><tspan class="t2" x="271" y="90">89418</tspan><tspan class="t3" x="271" y="103">0.00%</tspan></text>
<text class="lb" x="511" y="77"><tspan class="t1">147</tspan><tspan class="t2" x="511" y="90">90300</tspan><tspan class="t3" x="511" y="103">0.00%</tspan></text>
<text class="lb" x="751" y="77"><tspan class="t1">141</tspan><tspan class="t2" x="751" y="90">91146</tspan><tspan class="t3" x="751" y="103">0.00%</tspan></text>
<text class="lb" x="991" y="77"><tspan class="t1">147</tspan><tspan class="t2" x="991" y="90">92028</tspan><tspan class="t3" x="991" y="103">0.00%</tspan></text>
</g>

<g id="row28" transform="translate(0,4376)">
<use href="#grid"/><use href="#lead"/>
<use href="#P" x="32"/><use href="#Q" x="272"/>
<rect class="r" x="602" y="11.5" width="44" height="7"/><rect class="r" x="662" y="11.5" width="44" height="7"/><rect class="r" x="722" y="11.5" width="270" height="7"/>
<use href="#h" x="602" y="15" class="r"/><use href="#h" x="662" y="15" class="r"/><use href="#h" x="722" y="15" class="r"/>
<text class="mn" y="-7"><tspan x="32">109</tspan><tspan x="272">110</tspan><tspan x="512">111</tspan><tspan x="752">112</tspan></text>
<text class="lb" x="271" y="77"><tspan class="t1">141</tspan><tspan class="t2" x="271" y="90">92874</tspan><tspan class="t3" x="271" y="103">0.00%</tspan></text>
<text class="lb" x="511" y="77"><tspan class="t1">147</tspan><tspan class="t2" x="511" y="90">93756</tspan><tspan class="t3" x="511" y="103">0.00%</tspan></text>
<text class="lb" x="751" y="77"><tspan class="t1">147</tspan><tspan class="t2" x="751" y="90">94638</tspan><tspan class="t3" x="751" y="103">0.00%</tspan></text>
<text class="lb" x="991" y="77"><tspan class="t1">48</tspan><tspan class="t2" x="991" y="90">94926</tspan><tspan class="t3" x="991" y="103">0.00%</tspan></text>
</g>

<g id="row29" transform="translate(0,4530)">
<use href="#grid1"/>
<rect class="r" x="32" y="11.5" width="60" height="7"/>
<text class="mn" x="32" y="-7">113</text>
<text class="lb" x="271" y="77"><tspan class="t1">12</tspan><tspan class="t2" x="271" y="90">94998</tspan><tspan class="t3" x="271" y="103">0.00%</tspan></text>
</g>
</g>
</svg>
